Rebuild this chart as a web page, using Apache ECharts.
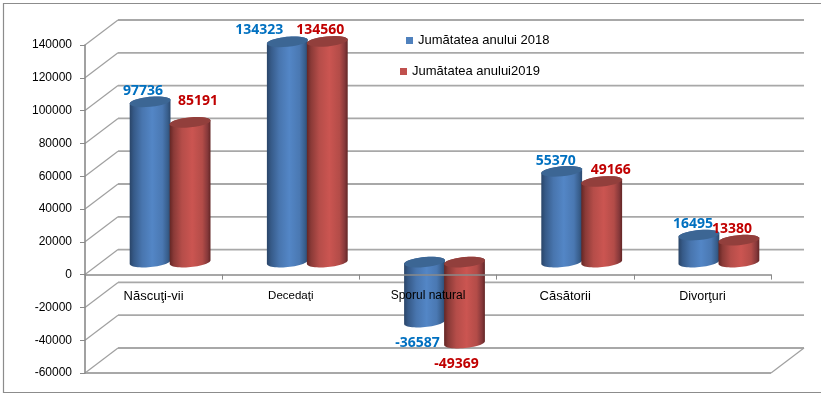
<!DOCTYPE html>
<html>
<head>
<meta charset="utf-8">
<style>html,body{margin:0;padding:0;background:#fff}#c{width:821px;height:395px}</style>
<script src="https://cdn.jsdelivr.net/npm/echarts@6/dist/echarts.min.js"></script>
</head>
<body>
<div id="c"></div>
<script>
const categories = ['Născuţi-vii', 'Decedaţi', 'Sporul natural', 'Căsătorii', 'Divorţuri'];
const series2018 = [97736, 134323, -36587, 55370, 16495];
const series2019 = [85191, 134560, -49369, 49166, 13380];
const name2018 = 'Jumătatea anului 2018';
const name2019 = 'Jumătatea anului2019';
const gridTicks = [140000, 120000, 100000, 80000, 60000, 40000, 20000, 0, -20000, -40000, -60000];
const categoryFontSizes = [13, 11.5, 12, 13, 12.5];
// hand-placed data label offsets from the cylinder end
const labelNudge2018 = [[-7, -11], [-28, -12], [-7, 21], [-6, -10], [-6, -11]];
const labelNudge2019 = [[8, -21], [-7, -11], [-8, 21], [9, -11], [-7, -11]];

const DEPTH_X = 33, DEPTH_Y = -25;
const RX = 20.5, RY = 5, TILT = -5.5 * Math.PI / 180;
const G = echarts.graphic;

function ell(cx, cy, t) {
  const c = Math.cos(t), s = Math.sin(t), ca = Math.cos(TILT), sa = Math.sin(TILT);
  return [cx + RX * c * ca - RY * s * sa, cy + RX * c * sa + RY * s * ca];
}
function arc(cx, cy, t0, t1) {
  const pts = [];
  for (let i = 0; i <= 28; i++) pts.push(ell(cx, cy, t0 + (t1 - t0) * i / 28));
  return pts;
}
function grad(stops) {
  return new G.LinearGradient(0, 0, 1, 0, stops.map((c, i) => ({ offset: [0, .1, .3, .55, .8, .93, 1][i], color: c })));
}
const looks = {
  a: { off: -20, body: grad(['#2a4568', '#365a88', '#4875ae', '#5386c6', '#4a78b2', '#385e8c', '#2c4a6f']), cap: '#3c6694', text: '#0070c0' },
  b: { off: 20, body: grad(['#642624', '#8a3a37', '#b54d49', '#cb5551', '#b34c48', '#85383a', '#622524']), cap: '#923f3c', text: '#c00000' }
};
function cylinder(look, nudges) {
  return function (params, api) {
    const idx = params.dataIndex, v = api.value(1);
    const base = api.coord([idx, 0]), end = api.coord([idx, v]);
    const cx = base[0] + DEPTH_X / 2 + look.off;
    const y0 = base[1] + DEPTH_Y / 2, y1 = end[1] + DEPTH_Y / 2;
    const capY = Math.min(y0, y1), footY = Math.max(y0, y1);
    const pts = arc(cx, footY, 0, Math.PI).concat(arc(cx, capY, Math.PI, 2 * Math.PI));
    const n = nudges[idx];
    return { type: 'group', children: [
      { type: 'polygon', shape: { points: pts }, style: { fill: look.body } },
      { type: 'polygon', shape: { points: arc(cx, capY, 0, 2 * Math.PI) }, style: { fill: look.cap } },
      { type: 'text', z2: 100, x: cx + n[0], y: y1 + n[1], style: {
        text: String(v), fill: look.text, font: 'bold 14px "Noto Sans"', align: 'center', verticalAlign: 'middle' } }
    ] };
  };
}
function wall(params, api) {
  const v = api.value(1), y = api.coord([0, v])[1];
  const cs = params.coordSys, L = cs.x, R = cs.x + cs.width;
  const stroke = { stroke: '#a8a8a8', lineWidth: 1.8, fill: 'none' };
  const thin = { stroke: '#a0a0a0', lineWidth: 1.2, fill: 'none' };
  const kids = [
    { type: 'line', shape: { x1: L + DEPTH_X, y1: y + DEPTH_Y, x2: R + DEPTH_X, y2: y + DEPTH_Y }, style: stroke },
    { type: 'line', shape: { x1: L, y1: y, x2: L + DEPTH_X, y2: y + DEPTH_Y }, style: thin }
  ];
  if (params.dataIndex === gridTicks.length - 1) {
    kids.push({ type: 'line', shape: { x1: L, y1: y, x2: R, y2: y }, style: stroke });
    kids.push({ type: 'line', shape: { x1: R, y1: y, x2: R + DEPTH_X, y2: y + DEPTH_Y }, style: thin });
  }
  return { type: 'group', children: kids };
}
const chart = echarts.init(document.getElementById('c'), null, { renderer: 'canvas' });
chart.setOption({
  animation: false,
  backgroundColor: '#fff',
  textStyle: { fontFamily: '"Liberation Sans"' },
  grid: { left: 85, top: 45, width: 686, height: 328, containLabel: false, outerBoundsMode: 'none' },
  graphic: [{ type: 'rect', silent: true, z: -1, left: 1, top: 1, shape: { width: 840, height: 389 },
    style: { fill: 'none', stroke: '#8c8c8c', lineWidth: 1.2 } }],
  legend: [
    { data: [{ name: name2018, icon: 'rect' }], left: 406, top: 34, padding: 0, itemWidth: 7, itemHeight: 7,
      textStyle: { fontSize: 13, color: '#000', fontFamily: '"Liberation Sans"' }, selectedMode: false },
    { data: [{ name: name2019, icon: 'rect' }], left: 400, top: 65, padding: 0, itemWidth: 7, itemHeight: 7,
      textStyle: { fontSize: 13, color: '#000', fontFamily: '"Liberation Sans"' }, selectedMode: false }
  ],
  xAxis: {
    type: 'category', z: 8,
    data: categories.map((c, i) => ({ value: c, textStyle: { fontSize: categoryFontSizes[i] } })),
    axisLine: { onZero: true, lineStyle: { color: '#8a8a8a', width: 1.6 } },
    axisTick: { show: true, length: 5, alignWithLabel: false, lineStyle: { color: '#8a8a8a' } },
    axisLabel: { interval: 0, margin: -83, color: '#000', fontFamily: '"Liberation Sans"', hideOverlap: false },
    splitLine: { show: false }
  },
  yAxis: {
    type: 'value', min: -60000, max: 140000, interval: 20000, z: 8,
    axisLine: { show: true, lineStyle: { color: '#8a8a8a', width: 1.6 } },
    axisTick: { show: true, length: 5, lineStyle: { color: '#8a8a8a' } },
    axisLabel: { margin: 13, color: '#000', fontSize: 12, fontFamily: '"Liberation Sans"', formatter: v => String(v) },
    splitLine: { show: false }
  },
  series: [
    { type: 'custom', silent: true, z: 1, clip: false, renderItem: wall, data: gridTicks.map(v => [0, v]), encode: { x: 0, y: 1 } },
    { type: 'custom', name: name2018, silent: true, z: 3, clip: false, itemStyle: { color: '#4f81bd' },
      renderItem: cylinder(looks.a, labelNudge2018), data: series2018.map((v, i) => [i, v]), encode: { x: 0, y: 1 } },
    { type: 'custom', name: name2019, silent: true, z: 3, clip: false, itemStyle: { color: '#c0504d' },
      renderItem: cylinder(looks.b, labelNudge2019), data: series2019.map((v, i) => [i, v]), encode: { x: 0, y: 1 } }
  ]
});
</script>
</body>
</html>
